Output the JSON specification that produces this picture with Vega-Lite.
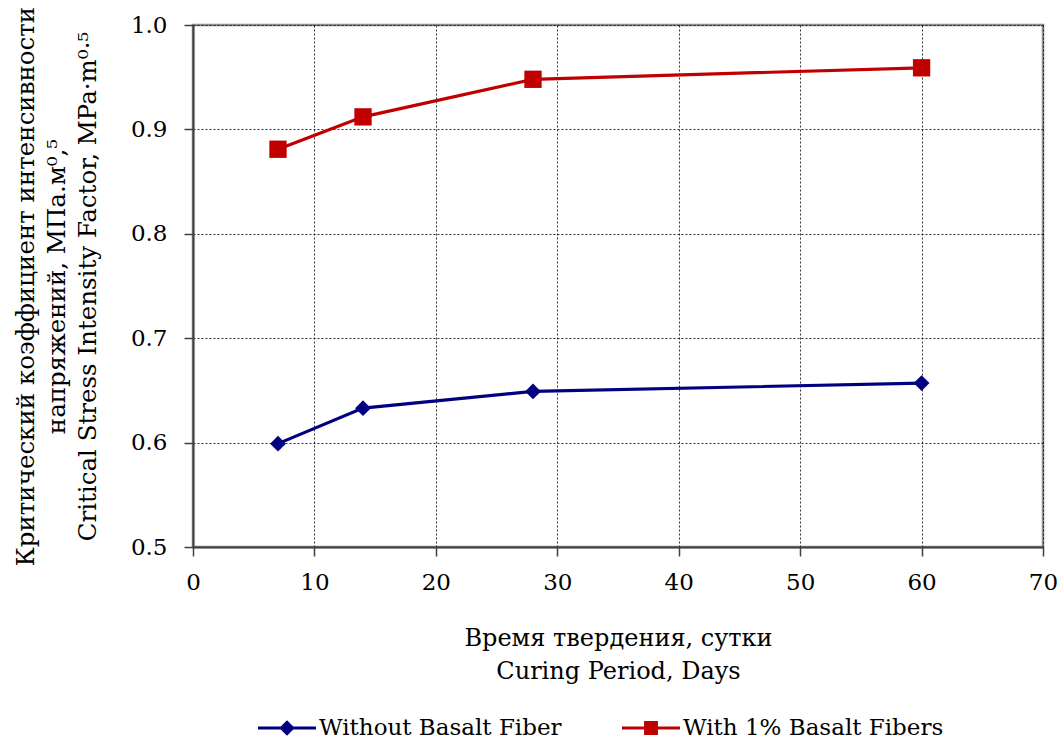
{
  "$schema": "https://vega.github.io/schema/vega-lite/v6.json",
  "width": 850,
  "height": 522,
  "autosize": {"type": "none"},
  "padding": {"left": 193, "top": 25, "right": 17, "bottom": 195},
  "background": "white",
  "config": {
    "font": "DejaVu Serif",
    "view": {"stroke": "#8c8c8c", "strokeWidth": 2.5},
    "axis": {
      "labelFont": "DejaVu Serif",
      "titleFont": "DejaVu Serif",
      "labelFontSize": 23,
      "titleFontSize": 24,
      "titleFontWeight": "normal",
      "labelColor": "#000000",
      "titleColor": "#000000",
      "domainColor": "#404040",
      "domainWidth": 2,
      "tickColor": "#404040",
      "tickWidth": 1.5,
      "tickSize": 9,
      "labelFlush": false,
      "gridColor": "#000000",
      "gridDash": [2, 2],
      "gridWidth": 1,
      "gridOpacity": 0.8
    },
    "legend": {
      "labelFont": "DejaVu Serif",
      "labelFontSize": 23,
      "labelColor": "#000000",
      "labelLimit": 400
    }
  },
  "data": {
    "values": [
      {"day": 7, "kic": 0.599, "series": "Without Basalt Fiber"},
      {"day": 14, "kic": 0.633, "series": "Without Basalt Fiber"},
      {"day": 28, "kic": 0.649, "series": "Without Basalt Fiber"},
      {"day": 60, "kic": 0.657, "series": "Without Basalt Fiber"},
      {"day": 7, "kic": 0.881, "series": "With 1% Basalt Fibers"},
      {"day": 14, "kic": 0.912, "series": "With 1% Basalt Fibers"},
      {"day": 28, "kic": 0.948, "series": "With 1% Basalt Fibers"},
      {"day": 60, "kic": 0.959, "series": "With 1% Basalt Fibers"}
    ]
  },
  "encoding": {
    "x": {
      "field": "day",
      "type": "quantitative",
      "scale": {"domain": [0, 70], "nice": false, "zero": false},
      "axis": {
        "values": [0, 10, 20, 30, 40, 50, 60, 70],
        "labelPadding": 15,
        "title": ["Время твердения, сутки", "Curing Period, Days"],
        "titlePadding": 32,
        "titleLineHeight": 33
      }
    },
    "y": {
      "field": "kic",
      "type": "quantitative",
      "scale": {"domain": [0.5, 1.0], "nice": false, "zero": false},
      "axis": {
        "values": [0.5, 0.6, 0.7, 0.8, 0.9, 1.0],
        "format": ".1f",
        "labelPadding": 17,
        "title": ["Критический коэффициент интенсивности", "напряжений, МПа.м⁰,⁵", "Critical Stress Intensity Factor, MPa·m⁰·⁵"],
        "titleFontSize": 24.5,
        "titlePadding": 30,
        "titleLineHeight": 31
      }
    }
  },
  "layer": [
    {
      "transform": [{"filter": "datum.series === 'Without Basalt Fiber'"}],
      "mark": {"type": "line", "strokeWidth": 3.2, "color": "#000080"}
    },
    {
      "transform": [{"filter": "datum.series === 'With 1% Basalt Fibers'"}],
      "mark": {"type": "line", "strokeWidth": 3.2, "color": "#C00000"}
    },
    {
      "transform": [{"filter": "datum.series === 'Without Basalt Fiber'"}],
      "mark": {"type": "point", "shape": "diamond", "filled": true, "size": 250, "opacity": 1, "color": "#000080"}
    },
    {
      "transform": [{"filter": "datum.series === 'With 1% Basalt Fibers'"}],
      "mark": {"type": "point", "shape": "square", "filled": true, "size": 300, "opacity": 1, "color": "#C00000"}
    },
    {
      "mark": {"type": "point", "filled": true, "opacity": 0},
      "encoding": {
        "color": {
          "field": "series",
          "type": "nominal",
          "scale": {
            "domain": ["Without Basalt Fiber", "With 1% Basalt Fibers"],
            "range": ["#000080", "#C00000"]
          },
          "legend": {
            "title": null,
            "orient": "none",
            "direction": "horizontal",
            "legendX": 65,
            "legendY": 674,
            "symbolSize": 3364,
            "symbolStrokeWidth": 0,
            "symbolOpacity": 1,
            "labelOffset": 3,
            "columnPadding": 60
          }
        },
        "shape": {
          "field": "series",
          "type": "nominal",
          "scale": {
            "domain": ["Without Basalt Fiber", "With 1% Basalt Fibers"],
            "range": [
              "M-1,-0.055H1V0.055H-1Z M0,-0.27L0.27,0L0,0.27L-0.27,0Z",
              "M-1,-0.055H1V0.055H-1Z M-0.24,-0.24H0.24V0.24H-0.24Z"
            ]
          },
          "legend": {
            "title": null,
            "orient": "none",
            "direction": "horizontal",
            "legendX": 65,
            "legendY": 674,
            "symbolSize": 3364,
            "symbolStrokeWidth": 0,
            "symbolOpacity": 1,
            "labelOffset": 3,
            "columnPadding": 60
          }
        }
      }
    }
  ]
}
